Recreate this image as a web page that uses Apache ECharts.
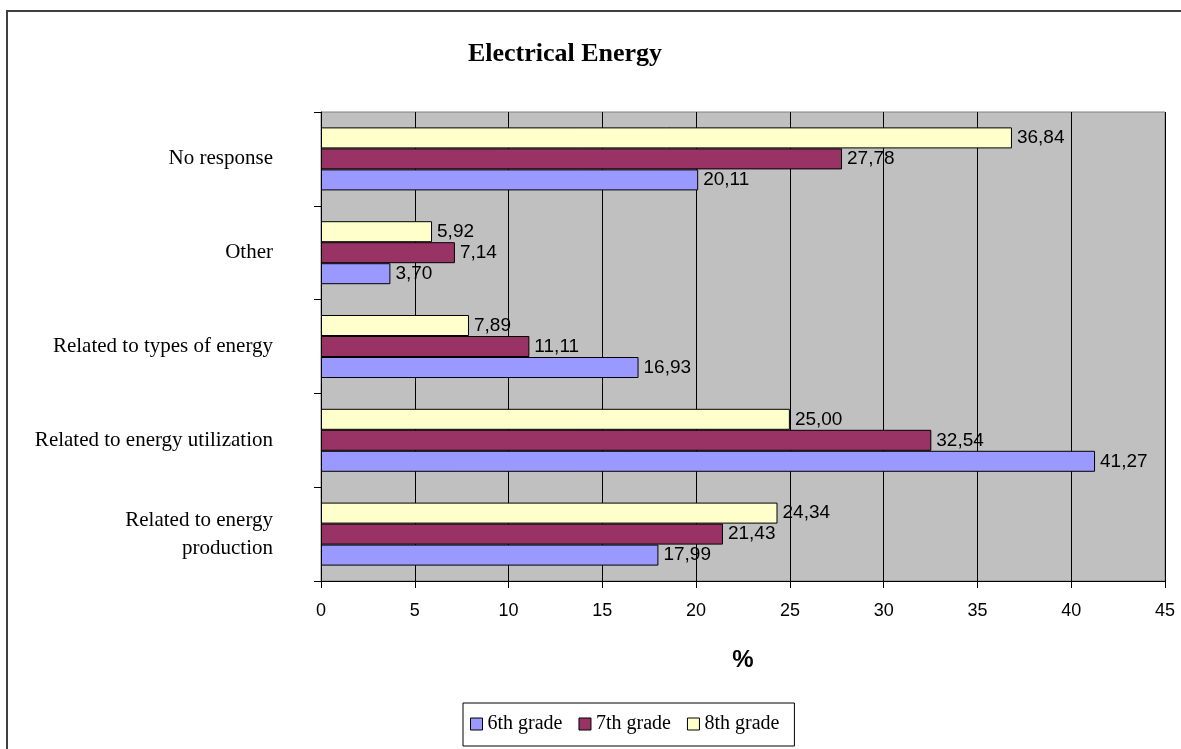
<!DOCTYPE html>
<html>
<head>
<meta charset="utf-8">
<title>Electrical Energy</title>
<script src="https://cdn.jsdelivr.net/npm/echarts@6/dist/echarts.min.js"></script>
<style>
  html, body { margin: 0; padding: 0; background: #ffffff; }
  #chart { width: 1181px; height: 749px; }
</style>
</head>
<body>
<div id="chart"></div>
<script>
// Response categories, listed bottom to top on the vertical axis
const categories = [
  'Related to energy\nproduction',
  'Related to energy utilization',
  'Related to types of energy',
  'Other',
  'No response'
];

// Percentage of students per grade
const grade6 = [17.99, 41.27, 16.93, 3.70, 20.11];
const grade7 = [21.43, 32.54, 11.11, 7.14, 27.78];
const grade8 = [24.34, 25.00, 7.89, 5.92, 36.84];

const seriesNames = ['6th grade', '7th grade', '8th grade'];
const xTicks = { min: 0, max: 45, interval: 5 };

const colors = ['#9999FF', '#993366', '#FFFFCC'];

const chart = echarts.init(document.getElementById('chart'), null, { renderer: 'canvas' });

const commaFormat = v => v.toFixed(2).replace('.', ',');

function barSeries(name, data, color) {
  return {
    name: name,
    type: 'bar',
    data: data,
    barWidth: 21,
    barGap: '0%',
    itemStyle: { color: color, borderColor: '#000000', borderWidth: 1 },
    label: {
      show: true,
      position: 'right',
      distance: 5,
      color: '#000000',
      fontFamily: 'Liberation Sans, Arial, sans-serif',
      fontSize: 19,
      formatter: p => commaFormat(p.value)
    },
    emphasis: { disabled: true }
  };
}

const option = {
  animation: false,
  title: {
    text: 'Electrical Energy',
    left: 560,
    top: 36,
    textAlign: 'center',
    textStyle: {
      fontFamily: 'Liberation Serif, Times New Roman, serif',
      fontWeight: 'bold',
      fontSize: 26,
      color: '#000000'
    }
  },
  legend: {
    data: seriesNames,
    left: 463,
    top: 703,
    padding: [11, 15, 12, 7],
    itemWidth: 12,
    itemHeight: 12,
    itemGap: 16,
    borderColor: '#000000',
    borderWidth: 1,
    icon: 'rect',
    itemStyle: { borderColor: '#000000', borderWidth: 1 },
    textStyle: {
      fontFamily: 'Liberation Serif, Times New Roman, serif',
      fontSize: 20,
      color: '#000000'
    }
  },
  grid: {
    left: 321,
    right: 16,
    top: 112,
    bottom: 168,
    show: true,
    backgroundColor: '#C0C0C0',
    borderColor: '#808080',
    borderWidth: 1
  },
  xAxis: {
    type: 'value',
    min: xTicks.min,
    max: xTicks.max,
    interval: xTicks.interval,
    name: '%',
    nameLocation: 'middle',
    nameGap: 67,
    nameTextStyle: {
      fontFamily: 'Liberation Sans, Arial, sans-serif',
      fontWeight: 'bold',
      fontSize: 24,
      color: '#000000'
    },
    axisLine: { show: true, lineStyle: { color: '#000000', width: 1 } },
    axisTick: { show: true, length: 7, lineStyle: { color: '#000000' } },
    axisLabel: {
      margin: 21,
      color: '#000000',
      fontFamily: 'Liberation Sans, Arial, sans-serif',
      fontSize: 18
    },
    splitLine: { show: true, lineStyle: { color: '#000000', width: 1 } }
  },
  yAxis: {
    type: 'category',
    data: categories,
    axisLine: { show: true, lineStyle: { color: '#000000', width: 1 } },
    axisTick: { show: true, length: 7, inside: false, lineStyle: { color: '#000000' } },
    axisLabel: {
      margin: 48,
      align: 'right',
      color: '#000000',
      fontFamily: 'Liberation Serif, Times New Roman, serif',
      fontSize: 21,
      lineHeight: 28
    },
    splitLine: { show: false }
  },
  // 8th grade is listed first so that, within each group, it sits on top
  // and 6th grade sits at the bottom next to the category's lower edge
  series: [
    barSeries(seriesNames[2], grade8, colors[2]),
    barSeries(seriesNames[1], grade7, colors[1]),
    barSeries(seriesNames[0], grade6, colors[0])
  ],
  graphic: [
    {
      type: 'polyline',
      silent: true,
      shape: { points: [[7, 749], [7, 11], [1181, 11]] },
      style: { stroke: '#404040', lineWidth: 2, fill: null }
    }
  ]
};

chart.setOption(option);
</script>
</body>
</html>
